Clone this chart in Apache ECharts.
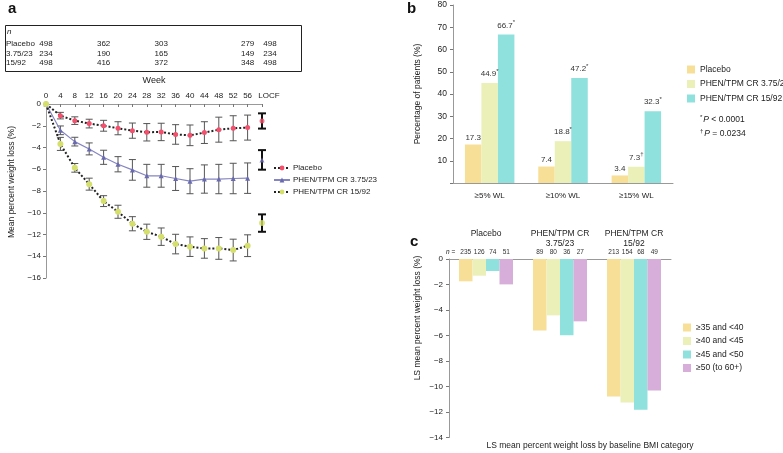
<!DOCTYPE html>
<html>
<head>
<meta charset="utf-8">
<script src="https://cdn.jsdelivr.net/npm/echarts@6/dist/echarts.min.js"></script>
<style>
    html, body { margin: 0; padding: 0; background: #fff; }
    #main { width: 783px; height: 453px; }
</style>
</head>
<body>
<div id="main"></div>
<script>
    // ---- panel a: mean percent weight loss by week ----
    var weeks = [0, 4, 8, 12, 16, 20, 24, 28, 32, 36, 40, 44, 48, 52, 56];
    var placeboMean = [0, -1.07, -1.53, -1.8, -2.0, -2.23, -2.45, -2.6, -2.57, -2.8, -2.88, -2.63, -2.36, -2.23, -2.17];
    var placeboErr = [0, 0.3, 0.35, 0.4, 0.5, 0.6, 0.7, 0.8, 0.8, 0.9, 0.95, 1.0, 1.15, 1.15, 1.15];
    var lowMean = [0, -2.42, -3.46, -4.13, -4.9, -5.54, -6.06, -6.6, -6.6, -6.85, -7.1, -6.9, -6.9, -6.85, -6.82];
    var lowErr = [0, 0.4, 0.4, 0.55, 0.65, 0.7, 0.95, 1.05, 1.05, 1.1, 1.15, 1.3, 1.35, 1.4, 1.4];
    var highMean = [0, -3.67, -5.87, -7.37, -8.93, -9.91, -11.01, -11.75, -12.2, -12.88, -13.12, -13.28, -13.28, -13.43, -13.03];
    var highErr = [0, 0.6, 0.4, 0.55, 0.5, 0.6, 0.65, 0.7, 0.8, 0.9, 0.9, 0.9, 1.0, 1.0, 1.0];
    var locfWeek = 60;
    var locfMean = [-1.56, -5.14, -10.95];
    var locfErr = [0.7, 0.9, 0.8];

    // n table above panel a
    var tableRows = ['Placebo', '3.75/23', '15/92'];
    var tableWeeks = [0, 16, 32, 56, 60];
    var tableN = [
        [498, 362, 303, 279, 498],
        [234, 190, 165, 149, 234],
        [498, 416, 372, 348, 498]
    ];

    // ---- panel b: percentage of patients reaching WL thresholds ----
    var wlCats = ['≥5% WL', '≥10% WL', '≥15% WL'];
    var bPlacebo = [17.3, 7.4, 3.4];
    var bLow = [44.9, 18.8, 7.3];
    var bHigh = [66.7, 47.2, 32.3];
    var bPlaceboSig = ['', '', ''];
    var bLowSig = ['*', '*', '†'];
    var bHighSig = ['*', '*', '*'];

    // ---- panel c: LS mean weight loss by baseline BMI ----
    var armCats = ['Placebo', 'PHEN/TPM CR\n3.75/23', 'PHEN/TPM CR\n15/92'];
    var bmiNames = ['≥35 and <40', '≥40 and <45', '≥45 and <50', '≥50 (to 60+)'];
    var bmi35 = [-1.75, -5.6, -10.78];
    var bmi40 = [-1.31, -4.42, -11.25];
    var bmi45 = [-0.94, -5.99, -11.83];
    var bmi50 = [-1.99, -4.89, -10.31];
    var n35 = [235, 89, 213];
    var n40 = [126, 80, 154];
    var n45 = [74, 36, 68];
    var n50 = [51, 27, 49];

    var armNames = ['Placebo', 'PHEN/TPM CR 3.75/23', 'PHEN/TPM CR 15/92'];
    var barColors = ['#f8df98', '#ebf0b9', '#8fe1dd', '#d6aed9'];
    var font = 'Liberation Sans, Arial, sans-serif';
    var txt = '#222';

    function minus(v) {
        return v < 0 ? '\u2212' + Math.abs(v) : String(v);
    }

    function points(xs, ys) {
        return xs.map(function (x, i) { return [x, ys[i]]; });
    }

    function errRows(xs, means, errs) {
        var out = [];
        xs.forEach(function (x, i) {
            if (errs[i] > 0) out.push([x, means[i] - errs[i], means[i] + errs[i]]);
        });
        return out;
    }

    // vertical error bar with caps
    function errBar(color, width, cap) {
        return function (params, api) {
            var x = api.value(0);
            var lo = api.coord([x, api.value(1)]);
            var hi = api.coord([x, api.value(2)]);
            var h = cap / 2;
            var st = { stroke: color, lineWidth: width };
            return {
                type: 'group',
                children: [
                    { type: 'line', shape: { x1: lo[0], y1: lo[1], x2: hi[0], y2: hi[1] }, style: st },
                    { type: 'line', shape: { x1: lo[0] - h, y1: lo[1], x2: lo[0] + h, y2: lo[1] }, style: st },
                    { type: 'line', shape: { x1: hi[0] - h, y1: hi[1], x2: hi[0] + h, y2: hi[1] }, style: st }
                ]
            };
        };
    }

    function errSeries(rows, color, width, cap) {
        return {
            type: 'custom', xAxisIndex: 0, yAxisIndex: 0, z: 1,
            renderItem: errBar(color, width, cap),
            encode: { x: 0, y: [1, 2] },
            data: rows, silent: true
        };
    }

    function pBar(name, values, sig, color) {
        return {
            name: 'b:' + name, type: 'bar', xAxisIndex: 1, yAxisIndex: 1,
            data: values, barWidth: 16.5, barGap: 0,
            itemStyle: { color: color },
            label: {
                show: true, position: 'top', distance: 3,
                formatter: function (p) {
                    var s = sig[p.dataIndex];
                    return '{v|' + p.value + '}' + (s ? '{s|' + s + '}' : '');
                },
                rich: {
                    v: { fontSize: 8, color: '#333', fontFamily: font },
                    s: { fontSize: 6, color: '#333', fontFamily: font, verticalAlign: 'top', padding: [0, 0, 6, 0] }
                }
            }
        };
    }

    function bmiBar(name, values, ns, color) {
        return {
            name: name, type: 'bar', xAxisIndex: 2, yAxisIndex: 2,
            data: values, barWidth: 13.5, barGap: 0,
            itemStyle: { color: color },
            label: {
                show: true, position: 'top', distance: 3,
                fontSize: 6.5, color: '#333', fontFamily: font,
                formatter: function (p) { return ns[p.dataIndex]; }
            }
        };
    }

    var chart = echarts.init(document.getElementById('main'));

    var option = {
        animation: false,
        textStyle: { fontFamily: font, color: txt },
        grid: [
            { left: 46, top: 104, right: 521, height: 174 },
            { left: 453, top: 5, right: 110, height: 178 },
            { left: 449, top: 259, right: 112, height: 178.5 }
        ],
        xAxis: [
            {
                type: 'value', gridIndex: 0, position: 'top', min: 0, max: 60, interval: 4,
                name: 'Week', nameLocation: 'middle', nameGap: 19,
                nameTextStyle: { fontSize: 9, color: txt },
                axisLine: { lineStyle: { color: '#999' } },
                axisTick: { inside: true, length: 3, lineStyle: { color: '#777' } },
                splitLine: { show: false },
                axisLabel: {
                    fontSize: 8, color: txt, margin: 4,
                    formatter: function (v) { return v === 60 ? '{l|LOCF}' : v; },
                    rich: { l: { fontSize: 8, color: txt, padding: [0, 0, 0, 14] } }
                }
            },
            {
                type: 'category', gridIndex: 1, data: wlCats,
                axisLine: { lineStyle: { color: '#999' } },
                axisTick: { length: 3, lineStyle: { color: '#777' } },
                axisLabel: { fontSize: 8, color: txt, margin: 9 }
            },
            {
                type: 'category', gridIndex: 2, position: 'top', data: armCats,
                axisLine: { lineStyle: { color: '#999' } },
                axisTick: { inside: true, length: 3, lineStyle: { color: '#777' } },
                axisLabel: { interval: 0, fontSize: 8.5, color: txt, margin: 30, verticalAlign: 'top', lineHeight: 10 }
            }
        ],
        yAxis: [
            {
                type: 'value', gridIndex: 0, min: -16, max: 0, interval: 2,
                axisLine: { show: true, lineStyle: { color: '#999' } },
                axisTick: { show: true, length: 3, lineStyle: { color: '#777' } },
                splitLine: { show: false },
                axisLabel: { fontSize: 8, color: txt, margin: 5, formatter: minus }
            },
            {
                type: 'value', gridIndex: 1, min: 0, max: 80, interval: 10,
                name: 'Percentage of patients (%)', nameLocation: 'middle', nameGap: 31,
                nameTextStyle: { fontSize: 8.5, color: txt },
                axisLine: { show: true, lineStyle: { color: '#999' } },
                axisTick: { show: true, length: 3, lineStyle: { color: '#777' } },
                splitLine: { show: false },
                axisLabel: { fontSize: 8.5, color: txt, margin: 6, formatter: function (v) { return v === 0 ? '' : v; } }
            },
            {
                type: 'value', gridIndex: 2, min: -14, max: 0, interval: 2,
                axisLine: { show: true, lineStyle: { color: '#999' } },
                axisTick: { show: true, length: 3, lineStyle: { color: '#777' } },
                splitLine: { show: false },
                axisLabel: { fontSize: 8, color: txt, margin: 6, formatter: minus }
            }
        ],
        legend: [
            {
                data: armNames, orient: 'vertical', left: 273, top: 164, padding: 0,
                itemWidth: 16, itemHeight: 6, itemGap: 4,
                textStyle: { fontSize: 8, color: txt, padding: [0, 0, 0, -2] }
            },
            {
                data: armNames.map(function (n) { return 'b:' + n; }),
                formatter: function (n) { return n.slice(2); },
                orient: 'vertical', left: 687, top: 65, padding: 0, icon: 'rect',
                itemWidth: 8, itemHeight: 8, itemGap: 5.5,
                textStyle: { fontSize: 8.5, color: txt }
            },
            {
                data: bmiNames, orient: 'vertical', left: 683, top: 323, padding: 0, icon: 'rect',
                itemWidth: 8, itemHeight: 8, itemGap: 4.5,
                textStyle: { fontSize: 8.5, color: txt }
            }
        ],
        series: [
            errSeries(errRows(weeks, placeboMean, placeboErr), '#555', 1, 7),
            errSeries(errRows(weeks, lowMean, lowErr), '#555', 1, 7),
            errSeries(errRows(weeks, highMean, highErr), '#555', 1, 7),
            errSeries(errRows([locfWeek, locfWeek, locfWeek], locfMean, locfErr), '#111', 2, 8),
            {
                name: armNames[0], type: 'line', xAxisIndex: 0, yAxisIndex: 0, z: 3,
                data: points(weeks, placeboMean),
                symbol: 'circle', symbolSize: 5,
                itemStyle: { color: '#f2506c' },
                lineStyle: { color: '#222', width: 2, type: 'dotted' }
            },
            {
                name: armNames[1], type: 'line', xAxisIndex: 0, yAxisIndex: 0, z: 3,
                data: points(weeks, lowMean),
                symbol: 'triangle', symbolSize: 5,
                itemStyle: { color: '#6a6aae' },
                lineStyle: { color: '#8585c2', width: 1.2 }
            },
            {
                name: armNames[2], type: 'line', xAxisIndex: 0, yAxisIndex: 0, z: 3,
                data: points(weeks, highMean),
                symbol: 'circle', symbolSize: 6,
                itemStyle: { color: '#d5e06c' },
                lineStyle: { color: '#222', width: 2, type: 'dotted' }
            },
            {
                name: 'locf', type: 'scatter', xAxisIndex: 0, yAxisIndex: 0, z: 3,
                data: locfMean.map(function (m, i) {
                    return { value: [locfWeek, m], itemStyle: { color: ['#f2506c', '#6a6aae', '#d5e06c'][i] },
                             symbol: ['circle', 'triangle', 'circle'][i], symbolSize: [5, 5, 6][i] };
                })
            },
            pBar(armNames[0], bPlacebo, bPlaceboSig, barColors[0]),
            pBar(armNames[1], bLow, bLowSig, barColors[1]),
            pBar(armNames[2], bHigh, bHighSig, barColors[2]),
            bmiBar(bmiNames[0], bmi35, n35, barColors[0]),
            bmiBar(bmiNames[1], bmi40, n40, barColors[1]),
            bmiBar(bmiNames[2], bmi45, n45, barColors[2]),
            bmiBar(bmiNames[3], bmi50, n50, barColors[3])
        ]
    };
    chart.setOption(option);

    // titles, n table, axis names and notes
    var g = [
        { type: 'text', left: 8, top: 1, style: { text: 'a', fill: '#111', font: 'bold 15px ' + font } },
        { type: 'text', left: 407, top: 1, style: { text: 'b', fill: '#111', font: 'bold 15px ' + font } },
        { type: 'text', left: 410, top: 234, style: { text: 'c', fill: '#111', font: 'bold 15px ' + font } },
        { type: 'rect', shape: { x: 5.5, y: 25.5, width: 296, height: 46 }, style: { fill: 'none', stroke: '#222', lineWidth: 1 } },
        { type: 'text', x: 7, y: 28, style: { text: 'n', fill: txt, font: 'italic 8px ' + font } }
    ];
    tableRows.forEach(function (r, i) {
        var y = 40 + i * 9.5;
        g.push({ type: 'text', x: 6, y: y, style: { text: r, fill: txt, font: '8px ' + font } });
        tableWeeks.forEach(function (w, j) {
            var px = chart.convertToPixel({ xAxisIndex: 0 }, w) + (w === 60 ? 8 : 0);
            g.push({ type: 'text', x: px, y: y, style: { text: String(tableN[i][j]), fill: txt, font: '8px ' + font, textAlign: 'center' } });
        });
    });
    g.push(
        { type: 'text', x: 12, y: 182, rotation: Math.PI / 2, style: { text: 'Mean percent weight loss (%)', fill: txt, font: '8.5px ' + font, textAlign: 'center', textVerticalAlign: 'middle' } },
        { type: 'text', x: 700, y: 114, style: { text: '{s|*}{i|P} < 0.0001', fill: txt, font: '8.5px ' + font,
            rich: { s: { fontSize: 6, verticalAlign: 'top', padding: [0, 1, 5, 0] }, i: { fontStyle: 'italic', fontSize: 8.5 } } } },
        { type: 'text', x: 700, y: 128, style: { text: '{s|†}{i|P} = 0.0234', fill: txt, font: '8.5px ' + font,
            rich: { s: { fontSize: 6, verticalAlign: 'top', padding: [0, 1, 5, 0] }, i: { fontStyle: 'italic', fontSize: 8.5 } } } },
        { type: 'text', x: 446, y: 249, style: { text: '{i|n} =', fill: txt, font: '6.5px ' + font,
            rich: { i: { fontStyle: 'italic', fontSize: 6.5 } } } },
        { type: 'text', x: 418, y: 318, rotation: Math.PI / 2, style: { text: 'LS mean percent weight loss (%)', fill: txt, font: '8.5px ' + font, textAlign: 'center', textVerticalAlign: 'middle' } },
        { type: 'text', x: 590, y: 446, style: { text: 'LS mean percent weight loss by baseline BMI category', fill: txt, font: '8.5px ' + font, textAlign: 'center', textVerticalAlign: 'middle' } }
    );
    chart.setOption({ graphic: g });

    window.addEventListener('resize', function () {
        chart.resize();
    });
</script>
</body>
</html>
